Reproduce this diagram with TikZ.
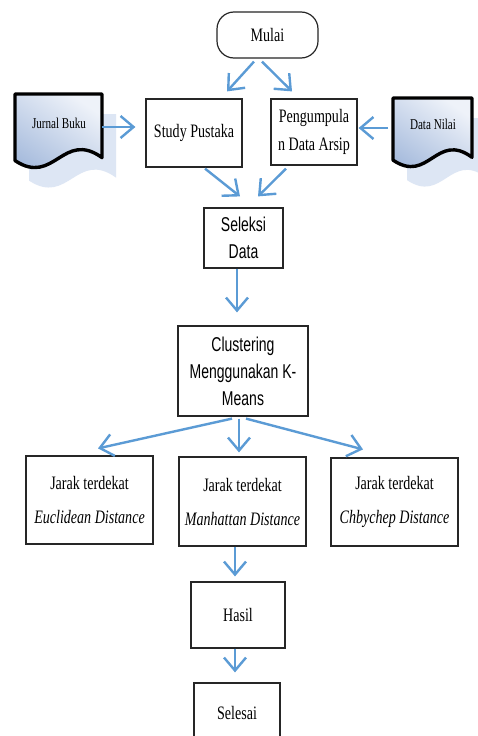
\documentclass[tikz,border=0pt]{standalone}
\usepackage{fontspec}
\setmainfont{Liberation Serif}[FakeStretch=0.74]
\newfontfamily\condsans{Liberation Sans}[FakeStretch=0.70]
\usetikzlibrary{arrows.meta,calc}
\definecolor{arrowblue}{HTML}{5B9BD5}
\definecolor{doctop}{HTML}{EEF2F9}
\definecolor{docbot}{HTML}{A2B8DB}
\definecolor{docshadow}{HTML}{DDE6F4}
\definecolor{boxline}{HTML}{262626}
\tikzset{
  arr/.style={draw=arrowblue, line width=2.4pt, -{Straight Barb[length=13pt,width=22pt,line width=2.4pt]}},
  flowbox/.style={draw=boxline, line width=1.2pt, fill=white, align=center, inner sep=0pt,
    font=\fontsize{19}{23}\selectfont},
  sansbox/.style={flowbox, font=\condsans\fontsize{20}{27}\selectfont},
  docline/.style={draw=black, line width=3.4pt, line join=round},
  doctext/.style={font=\fontsize{15}{18}\selectfont, inner sep=0pt}
}
\begin{document}
\begin{tikzpicture}[x=1pt,y=-1pt]
\useasboundingbox (0,0) rectangle (478,736);
\clip (0,0) rectangle (478,736);
\fill[white] (0,0) rectangle (478,736);

% document shadows
\fill[docshadow] (29,114) -- (116,114) -- (116,177.6) .. controls (76.85,149.5) and (68.15,206.5) .. (29,180.6) -- cycle;
\fill[docshadow] (407,118) -- (486,118) -- (486,177.3) .. controls (450.45,151.1) and (442.55,204.25) .. (407,180.1) -- cycle;

% documents
\shade[top color=doctop, bottom color=docbot, shading angle=-35]
  (15,94) -- (102,94) -- (102,157.6) .. controls (62.85,129.5) and (54.15,186.5) .. (15,160.6) -- cycle;
\path[docline] (15,94) -- (102,94) -- (102,157.6) .. controls (62.85,129.5) and (54.15,186.5) .. (15,160.6) -- cycle;
\shade[top color=doctop, bottom color=docbot, shading angle=-35]
  (393,98) -- (472,98) -- (472,157.3) .. controls (436.45,131.1) and (428.55,184.25) .. (393,160.1) -- cycle;
\path[docline] (393,98) -- (472,98) -- (472,157.3) .. controls (436.45,131.1) and (428.55,184.25) .. (393,160.1) -- cycle;

\node[doctext] (jurnal) at (59,123) {Jurnal Buku};
\node[doctext] (datanilai) at (433,124) {Data Nilai};
\coordinate (jurnalR) at (102,127);
\coordinate (datanilaiL) at (388,128);

% boxes
\node[flowbox, rounded corners=17pt, minimum width=101pt, minimum height=46pt] (mulai) at (267.5,35) {Mulai};
\node[flowbox, minimum width=96pt, minimum height=68pt] (study) at (194,133) {Study Pustaka};
\node[flowbox, minimum width=86pt, minimum height=66pt] (peng) at (314,132) {Pengumpula\\[5pt]n Data Arsip};
\node[sansbox, minimum width=79pt, minimum height=60pt] (seleksi) at (243.5,238) {Seleksi\\Data};
\node[sansbox, minimum width=130pt, minimum height=90pt] (clust) at (243,371) {Clustering\\Menggunakan K-\\Means};
\node[flowbox, minimum width=127pt, minimum height=88pt] (eucl) at (89.5,500) {Jarak terdekat\\[11pt]\textit{Euclidean Distance}};
\node[flowbox, minimum width=127pt, minimum height=89pt] (manh) at (242.5,501.5) {Jarak terdekat\\[11pt]\textit{Manhattan Distance}};
\node[flowbox, minimum width=127pt, minimum height=88pt] (cheb) at (394.5,502) {Jarak terdekat\\[11pt]\textit{Chbychep Distance}};
\node[flowbox, minimum width=94pt, minimum height=66pt] (hasil) at (238,615) {Hasil};
\node[flowbox, minimum width=86pt, minimum height=60pt] (selesai) at (237,713) {Selesai};

% arrows
\draw[arr] ($(mulai.south)+(-13.5,3)$) -- ($(study.north)+(33,-7)$);
\draw[arr] ($(mulai.south)+(-5.5,3)$) -- ($(peng.north)+(-22,-7)$);
\draw[arr] (jurnalR) -- ($(study.west)+(-10,-6)$);
\draw[arr] (datanilaiL) -- ($(peng.east)+(1,-4)$);
\draw[arr] ($(study.south)+(11,1)$) -- ($(seleksi.north)+(-3.5,-11)$);
\draw[arr] ($(peng.south)+(-28,3)$) -- ($(seleksi.north)+(14.5,-11)$);
\draw[arr] ($(seleksi.south)+(-6.5,0)$) -- ($(clust.north)+(-6,-13)$);
\draw[arr] ($(clust.south)+(-11,2)$) -- ($(eucl.north)+(8.5,-7)$);
\draw[arr] ($(clust.south)+(-4,2)$) -- ($(manh.north)+(-3.5,-4)$);
\draw[arr] ($(clust.south)+(3,2)$) -- ($(cheb.north)+(-31.5,-8)$);
\draw[arr] ($(manh.south)+(-7.5,0)$) -- ($(hasil.north)+(-3,-5)$);
\draw[arr] ($(hasil.south)+(-3,0)$) -- ($(selesai.north)+(-2,-10)$);
\end{tikzpicture}
\end{document}
